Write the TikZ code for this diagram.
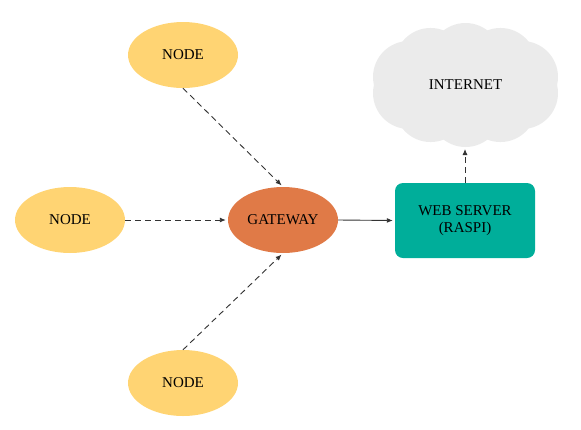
\documentclass[tikz,border=0pt]{standalone}
\usepackage{fontspec}
\setmainfont{Liberation Serif}
\usetikzlibrary{shapes.geometric,arrows.meta,calc}
\definecolor{nodey}{HTML}{FFD473}
\definecolor{gate}{HTML}{E07A47}
\definecolor{teal}{HTML}{00AE9A}
\definecolor{cloudc}{HTML}{EBEBEB}
\definecolor{linec}{HTML}{333333}
\begin{document}
\begin{tikzpicture}[x=1pt,y=-1pt,
  lbl/.style={font=\fontsize{15}{17}\selectfont},
  sensor/.style={lbl,ellipse,fill=nodey,minimum width=110pt,minimum height=66pt,inner sep=0pt},
  gw/.style={lbl,ellipse,fill=gate,minimum width=110pt,minimum height=66pt,inner sep=0pt},
  srv/.style={lbl,rectangle,rounded corners=8pt,fill=teal,minimum width=140pt,minimum height=75pt,align=center},
  dasharrow/.style={draw=linec,line width=0.9pt,dash pattern=on 6pt off 4pt,-{Latex[length=6pt,width=5pt]},shorten >=2pt},
  solidarrow/.style={draw=linec,line width=0.9pt,-{Latex[length=6pt,width=5pt]},shorten >=2pt}]
\useasboundingbox (0,0) rectangle (581,429);
% cloud body
\fill[cloudc] (465.5,85) ellipse [x radius=60pt, y radius=28pt];
\foreach \ang in {18,54,90,126,162,198,234,270,306,342}
  \fill[cloudc] ($(465.5,85)+({59.4*cos(\ang)},{26*sin(\ang)})$) circle [radius=36pt];
\node[lbl] (c) at (465.5,85) {INTERNET};
\coordinate (cs) at (465,147);
\node[sensor] (n1) at (183,55) {NODE};
\node[sensor] (n2) at (70,220) {NODE};
\node[sensor] (n3) at (183,383) {NODE};
\node[gw] (g) at (283,220) {GATEWAY};
\node[srv] (s) at (465,220.5) {WEB SERVER\\(RASPI)};
\draw[dasharrow] (n1.south) -- (g.north);
\draw[dasharrow] (n2.east) -- (g.west);
\draw[dasharrow] (n3.north) -- (g.south);
\draw[solidarrow] (g.east) -- (s.west);
\draw[dasharrow] (s.north) -- (cs);
\end{tikzpicture}
\end{document}
